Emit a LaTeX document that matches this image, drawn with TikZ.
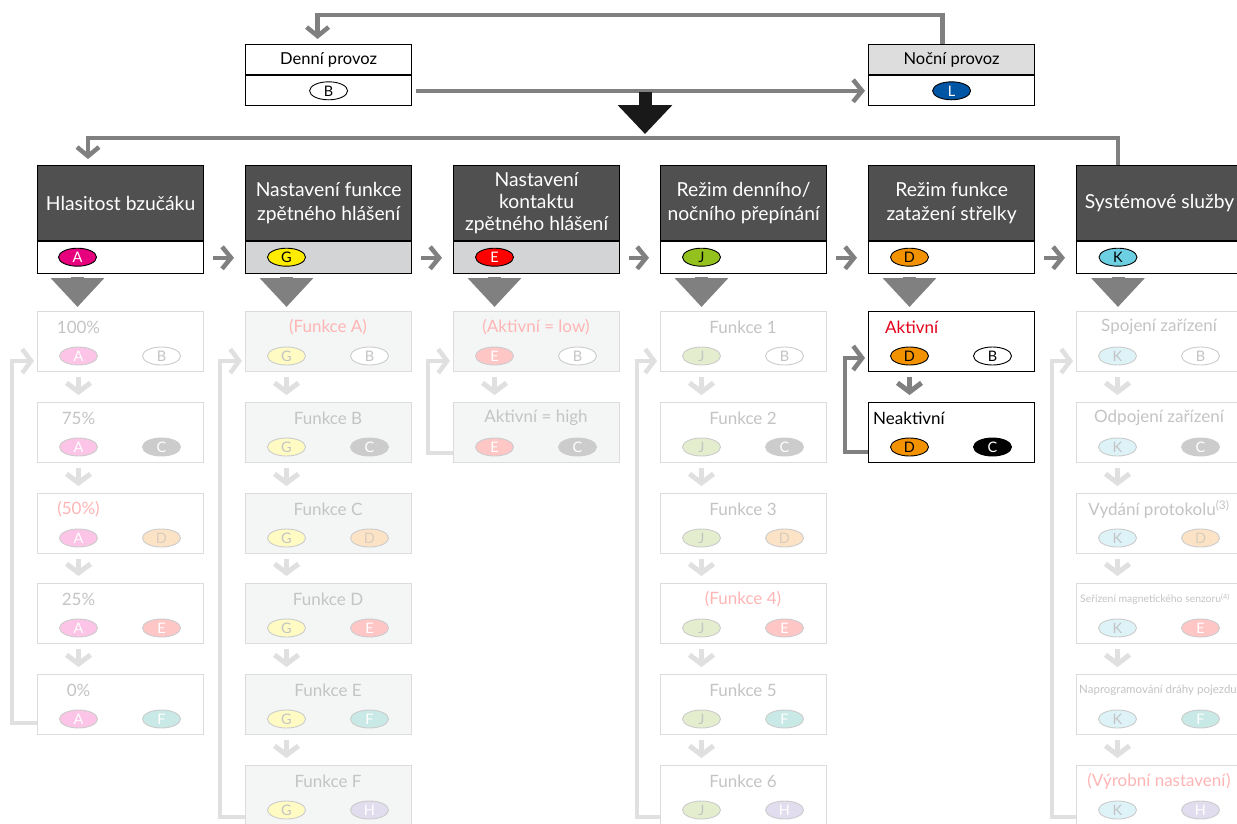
\documentclass[tikz,border=0pt]{standalone}
\usepackage{fontspec}
\setmainfont{Lato}
\usetikzlibrary{arrows.meta,shapes.geometric,calc}

\definecolor{hdr}{HTML}{505050}
\definecolor{arr}{HTML}{808080}
\definecolor{fline}{HTML}{E0E0E0}
\definecolor{fborder}{HTML}{DCDCDC}
\definecolor{ftext}{HTML}{C4C4C4}
\definecolor{fred}{HTML}{FFB5B5}
\definecolor{lowgray}{HTML}{D3D4D5}
\definecolor{topgray}{HTML}{DDDDDD}
\definecolor{fboxfill}{HTML}{F4F5F5}
\definecolor{fbb}{HTML}{CCCCCC}
\definecolor{redtxt}{HTML}{E2001A}
% bright badge colours
\definecolor{cA}{HTML}{E6007E}
\definecolor{cG}{HTML}{FFED00}
\definecolor{cE}{HTML}{FF0000}
\definecolor{cJ}{HTML}{95C11F}
\definecolor{cD}{HTML}{F39200}
\definecolor{cK}{HTML}{6DD0E2}
\definecolor{cL}{HTML}{0055A5}
% faded badge colours
\definecolor{pA}{HTML}{FCC4E6}
\definecolor{pC}{HTML}{CCCCCC}
\definecolor{pD}{HTML}{FDE3C6}
\definecolor{pE}{HTML}{FFC6C6}
\definecolor{pF}{HTML}{C8E9E5}
\definecolor{pG}{HTML}{FFFBC2}
\definecolor{pH}{HTML}{E1DDEE}
\definecolor{pJ}{HTML}{E4EECE}
\definecolor{pK}{HTML}{DDF3F8}
\definecolor{pDt}{HTML}{D9CDBF}

\newcommand\hfont{\fontsize{19.3}{24.5}\selectfont}
\newcommand\bfont{\fontsize{14.5}{15}\selectfont}
\newcommand\lfont{\fontsize{17}{19}\selectfont}
\newcommand\tfont{\fontsize{16.5}{18}\selectfont}
\newcommand\sfont{\fontsize{10.4}{12}\selectfont}
\newcommand\ssfont{\fontsize{11.5}{13}\selectfont}

\tikzset{
 hdrbox/.style={draw=black, line width=1.2pt, fill=hdr, text=white, minimum width=166pt, minimum height=75pt, inner sep=0pt, align=center, font=\hfont},
 lowbox/.style={draw=black, line width=1.2pt, minimum width=166pt, minimum height=32pt, inner sep=0pt},
 topbox/.style={draw=black, line width=1.2pt, minimum width=166pt, minimum height=30pt, inner sep=0pt, font=\tfont},
 subbox/.style={draw=fborder, line width=1.4pt, minimum width=166pt, minimum height=60pt, inner sep=0pt, fill=white},
 actbox/.style={draw=black, line width=1.2pt, minimum width=166pt, minimum height=60pt, inner sep=0pt, fill=white},
 flabel/.style={text=ftext, font=\lfont, inner sep=0pt},
 rlabel/.style={text=fred, font=\lfont, inner sep=0pt},
 slabel/.style={text=ftext, font=\sfont, inner sep=0pt, anchor=west},
 sslabel/.style={text=ftext, font=\ssfont, inner sep=0pt, anchor=west},
 badge/.style={ellipse, minimum width=38pt, minimum height=18pt, inner sep=0pt, line width=0.9pt, font=\bfont},
 fbadge/.style={badge, draw=fbb},
 bA/.style={badge, draw=black, fill=cA, text=white},
 bB/.style={badge, draw=black, fill=white, text=black},
 bC/.style={badge, draw=black, fill=black, text=white},
 bD/.style={badge, draw=black, fill=cD, text=black},
 bE/.style={badge, draw=black, fill=cE, text=white},
 bG/.style={badge, draw=black, fill=cG, text=black},
 bJ/.style={badge, draw=black, fill=cJ, text=black},
 bK/.style={badge, draw=black, fill=cK, text=black},
 bL/.style={badge, draw=black, fill=cL, text=white},
 fA/.style={fbadge, fill=pA, text=white},
 fB/.style={fbadge, fill=white, text=ftext},
 fC/.style={fbadge, fill=pC, text=white},
 fD/.style={fbadge, fill=pD, text=pDt},
 fE/.style={fbadge, fill=pE, text=white},
 fF/.style={fbadge, fill=pF, text=white},
 fG/.style={fbadge, fill=pG, text=ftext},
 fH/.style={fbadge, fill=pH, text=white},
 fJ/.style={fbadge, fill=pJ, text=ftext},
 fK/.style={fbadge, fill=pK, text=ftext},
 garr/.style={draw=arr, line width=4.5pt, -{Straight Barb[length=9pt,width=22pt]}},
 harr/.style={draw=arr, line width=4.5pt, -{Straight Barb[length=9pt,width=22pt]}, shorten <=9pt, shorten >=11pt},
 bigarr/.style={draw=arr, line width=13pt, -{Triangle[length=29pt,width=52pt]}, shorten <=3pt, shorten >=4pt},
 fchev/.style={draw=fline, line width=5pt, -{Straight Barb[length=9pt,width=24pt]}, shorten <=5pt, shorten >=7pt},
 gchev/.style={draw=arr, line width=5pt, -{Straight Barb[length=9pt,width=24pt]}, shorten <=5pt, shorten >=7pt},
 floop/.style={draw=fline, line width=4.5pt, -{Straight Barb[length=9pt,width=24pt]}, shorten >=3pt},
 gloop/.style={draw=arr, line width=4.5pt, -{Straight Barb[length=9pt,width=24pt]}, shorten >=3pt},
}

% #1 name #2 x #3 y #4 box style #5 label x offset #6 label style #7 text #8 left letter #9 right letter
\newcommand\mkbox[9]{%
 \node[subbox,#4,anchor=north west] (#1) at (#2,#3) {};
 \node[#6] (#1t) at ([xshift=#5pt,yshift=-16pt]#1.north west) {#7};
 \node[f#8] (#1a) at ([xshift=41.5pt,yshift=-45pt]#1.north west) {#8};
 \node[f#9] (#1b) at ([xshift=124.5pt,yshift=-45pt]#1.north west) {#9};
}

\begin{document}
\begin{tikzpicture}[x=1pt,y=-1pt]
\useasboundingbox (0,0) rectangle (1237,823);
\clip (0,0) rectangle (1237,823);
\fill[white] (0,0) rectangle (1237,823);

% ---------- top row ----------
\node[topbox, anchor=north west] (den) at (245,44) {Denní provoz};
\node[topbox, anchor=north west] (denb) at (den.south west) {};
\node[bB] (denB) at (denb.center) {B};
\node[topbox, fill=topgray, anchor=north west] (noc) at (868,44) {Noční provoz};
\node[topbox, anchor=north west] (nocb) at (noc.south west) {};
\node[bL] (nocL) at (nocb.center) {L};

\draw[garr, shorten <=4pt, shorten >=3pt] (denb.east) -- (nocb.west);
\coordinate (topy) at (0,15);
\coordinate (nn) at ([xshift=-9pt]noc.north);
\coordinate (dn) at ([xshift=-11pt]den.north);
\draw[garr, shorten >=5pt] (nn) -- (nn |- topy) -- (dn |- topy) -- (dn);

\coordinate (bk1) at (645,92);
\coordinate (bk2) at (645,134);
\draw[draw=black!90, line width=13pt, -{Triangle[length=29pt,width=53pt]}] (bk1) -- (bk2);

% ---------- headers ----------
\node[hdrbox, anchor=north west] (h1) at (37,165) {Hlasitost bzučáku};
\node[hdrbox, anchor=north west] (h2) at (245,165) {Nastavení funkce\\zpětného hlášení};
\node[hdrbox, anchor=north west, font=\fontsize{19.3}{22}\selectfont] (h3) at (453,165) {Nastavení\\kontaktu\\zpětného hlášení};
\node[hdrbox, anchor=north west] (h4) at (660,165) {Režim denního/\\nočního přepínání};
\node[hdrbox, anchor=north west] (h5) at (868,165) {Režim funkce\\zatažení střelky};
\node[hdrbox, anchor=north west] (h6) at (1076,165) {Systémové služby};

\node[lowbox, fill=white, anchor=north west] (h1l) at (h1.south west) {};
\node[lowbox, fill=lowgray, anchor=north west] (h2l) at (h2.south west) {};
\node[lowbox, fill=lowgray, anchor=north west] (h3l) at (h3.south west) {};
\node[lowbox, fill=white, anchor=north west] (h4l) at (h4.south west) {};
\node[lowbox, fill=white, anchor=north west] (h5l) at (h5.south west) {};
\node[lowbox, fill=white, anchor=north west] (h6l) at (h6.south west) {};

\node[bA] (hA) at ([xshift=40.5pt,yshift=-16pt]h1l.north west) {A};
\node[bG] (hG) at ([xshift=41.5pt,yshift=-16pt]h2l.north west) {G};
\node[bE] (hE) at ([xshift=41.5pt,yshift=-16pt]h3l.north west) {E};
\node[bJ] (hJ) at ([xshift=41.5pt,yshift=-16pt]h4l.north west) {J};
\node[bD] (hD) at ([xshift=41.5pt,yshift=-16pt]h5l.north west) {D};
\node[bK] (hK) at ([xshift=42pt,yshift=-16pt]h6l.north west) {K};

\draw[harr] (h1l.east) -- (h2l.west);
\draw[harr] (h2l.east) -- (h3l.west);
\draw[harr] (h3l.east) -- (h4l.west);
\draw[harr] (h4l.east) -- (h5l.west);
\draw[harr] (h5l.east) -- (h6l.west);

\coordinate (hl) at (0,138);
\draw[garr, shorten >=6pt] (hK |- h6.north) -- (hK |- hl) -| ($(h1.north west)+(51,0)$);

% ---------- column 1 ----------
\mkbox{s11}{37}{311}{}{41.5}{flabel}{100\%}{A}{B}
\mkbox{s12}{37}{402}{}{41.5}{flabel}{75\%}{A}{C}
\mkbox{s13}{37}{493}{}{41.5}{rlabel}{(50\%)}{A}{D}
\mkbox{s14}{37}{583}{}{41.5}{flabel}{25\%}{A}{E}
\mkbox{s15}{37}{674}{}{41.5}{flabel}{0\%}{A}{F}

% ---------- column 2 ----------
\mkbox{s21}{245}{311}{fill=fboxfill}{83}{rlabel}{(Funkce A)}{G}{B}
\mkbox{s22}{245}{402}{fill=fboxfill}{83}{flabel}{Funkce B}{G}{C}
\mkbox{s23}{245}{493}{fill=fboxfill}{83}{flabel}{Funkce C}{G}{D}
\mkbox{s24}{245}{583}{fill=fboxfill}{83}{flabel}{Funkce D}{G}{E}
\mkbox{s25}{245}{674}{fill=fboxfill}{83}{flabel}{Funkce E}{G}{F}
\mkbox{s26}{245}{765}{fill=fboxfill}{83}{flabel}{Funkce F}{G}{H}

% ---------- column 3 ----------
\mkbox{s31}{453}{311}{fill=fboxfill}{83}{rlabel}{(Aktivní = low)}{E}{B}
\mkbox{s32}{453}{402}{fill=fboxfill}{83}{flabel}{Aktivní = high}{E}{C}

% ---------- column 4 ----------
\mkbox{s41}{660}{311}{}{83}{flabel}{Funkce 1}{J}{B}
\mkbox{s42}{660}{402}{}{83}{flabel}{Funkce 2}{J}{C}
\mkbox{s43}{660}{493}{}{83}{flabel}{Funkce 3}{J}{D}
\mkbox{s44}{660}{583}{}{83}{rlabel}{(Funkce 4)}{J}{E}
\mkbox{s45}{660}{674}{}{83}{flabel}{Funkce 5}{J}{F}
\mkbox{s46}{660}{765}{}{83}{flabel}{Funkce 6}{J}{H}

% ---------- column 5 ----------
\node[actbox, anchor=north west] (s51) at (868,311) {};
\node[text=redtxt, font=\lfont, inner sep=0pt, anchor=west] (s51t) at ([xshift=17pt,yshift=-16pt]s51.north west) {Aktivní};
\node[bD] (s51a) at ([xshift=41.5pt,yshift=-45pt]s51.north west) {D};
\node[bB] (s51b) at ([xshift=124.5pt,yshift=-45pt]s51.north west) {B};
\node[actbox, anchor=north west] (s52) at (868,402) {};
\node[text=black, font=\lfont, inner sep=0pt, anchor=west] (s52t) at ([xshift=5pt,yshift=-16pt]s52.north west) {Neaktivní};
\node[bD] (s52a) at ([xshift=41.5pt,yshift=-45pt]s52.north west) {D};
\node[bC] (s52b) at ([xshift=124.5pt,yshift=-45pt]s52.north west) {C};

% ---------- column 6 ----------
\mkbox{s61}{1076}{311}{}{83}{flabel}{Spojení zařízení}{K}{B}
\mkbox{s62}{1076}{402}{}{83}{flabel}{Odpojení zařízení}{K}{C}
\mkbox{s63}{1076}{493}{}{83}{flabel}{Vydání protokolu\textsuperscript{(3)}}{K}{D}
\mkbox{s64}{1076}{583}{}{4}{slabel}{Seřízení magnetického senzoru\textsuperscript{(4)}}{K}{E}
\mkbox{s65}{1076}{674}{}{3}{sslabel}{Naprogramování dráhy pojezdu}{K}{F}
\mkbox{s66}{1076}{765}{}{83}{rlabel}{(Výrobní nastavení)}{K}{H}

% ---------- big down arrows ----------
\draw[bigarr] (hA |- h1l.south) -- (hA |- s11.north);
\draw[bigarr] (hG |- h2l.south) -- (hG |- s21.north);
\draw[bigarr] (hE |- h3l.south) -- (hE |- s31.north);
\draw[bigarr] (hJ |- h4l.south) -- (hJ |- s41.north);
\draw[bigarr] (hD |- h5l.south) -- (hD |- s51.north);
\draw[bigarr] (hK |- h6l.south) -- (hK |- s61.north);

% ---------- small chevrons ----------
\foreach \c/\n in {1/5,2/6,3/2,4/6,6/6}{
  \foreach \i [evaluate=\i as \j using int(\i+1)] in {1,...,5}{
    \ifnum\i<\n
      \draw[fchev] (s\c\i a |- s\c\i.south) -- (s\c\i a |- s\c\j.north);
    \fi
  }
}
\draw[gchev] (s51a |- s51.south) -- (s51a |- s52.north);

% ---------- loops ----------
\draw[floop] ($(s15a -| s15.west)+(0,4)$) -- ++(-25,0) |- ($(s11a -| s11.west)+(0,5)$);
\draw[floop] ($(s26a -| s26.west)+(0,7)$) -- ++(-25,0) |- ($(s21a -| s21.west)+(0,5)$);
\draw[floop] ($(s32a -| s32.west)+(0,6)$) -- ++(-25,0) |- ($(s31a -| s31.west)+(0,5)$);
\draw[floop] ($(s46a -| s46.west)+(0,7)$) -- ++(-23,0) |- ($(s41a -| s41.west)+(0,5)$);
\draw[gloop] ($(s52a -| s52.west)+(0,5)$) -- ++(-23,0) |- ($(s51a -| s51.west)+(0,2)$);
\draw[floop] ($(s66a -| s66.west)+(0,7)$) -- ++(-24,0) |- ($(s61a -| s61.west)+(0,5)$);
\end{tikzpicture}
\end{document}
